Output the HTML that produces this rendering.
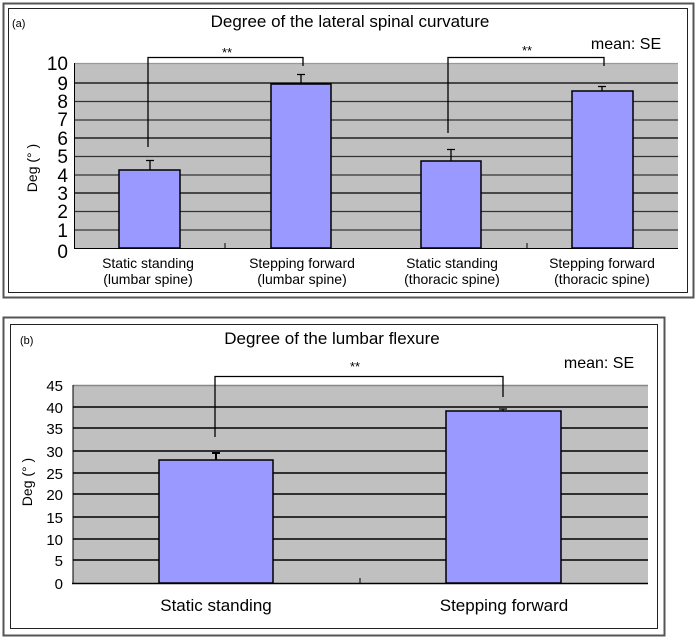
<!DOCTYPE html>
<html><head><style>body{margin:0;background:#fff}svg{display:block}</style></head>
<body>
<svg width="700" height="641" xmlns="http://www.w3.org/2000/svg" font-family="Liberation Sans, sans-serif">
<!-- Panel a -->
<rect x="3.5" y="3.5" width="690" height="294" fill="#fff" stroke="#555" stroke-width="2"/>
<rect x="8.5" y="8.5" width="679" height="284" fill="#fff" stroke="#222" stroke-width="1"/>
<text x="12" y="27" font-size="11">(a)</text>
<text x="350" y="27" font-size="17" text-anchor="middle">Degree of the lateral spinal curvature</text>
<text x="626" y="49" font-size="16" text-anchor="middle">mean: SE</text>
<rect x="75" y="63" width="603" height="185" fill="#c0c0c0"/>
<g stroke="#333" stroke-width="1.2">
<line x1="75" y1="63.5" x2="678" y2="63.5" stroke="#999"/>
<line x1="75" y1="83" x2="678" y2="83" stroke="#000"/>
<line x1="75" y1="101.5" x2="678" y2="101.5"/>
<line x1="75" y1="120" x2="678" y2="120"/>
<line x1="75" y1="138" x2="678" y2="138" stroke="#000"/>
<line x1="75" y1="156.5" x2="678" y2="156.5"/>
<line x1="75" y1="175" x2="678" y2="175"/>
<line x1="75" y1="193" x2="678" y2="193" stroke="#000"/>
<line x1="75" y1="211.5" x2="678" y2="211.5"/>
<line x1="75" y1="230" x2="678" y2="230"/>
</g>
<line x1="74.5" y1="63" x2="74.5" y2="248" stroke="#000"/>
<line x1="74" y1="248.5" x2="678" y2="248.5" stroke="#000"/>
<line x1="225" y1="243" x2="225" y2="248" stroke="#000"/>
<line x1="527" y1="243" x2="527" y2="248" stroke="#000"/>
<g font-size="19" text-anchor="end">
<text x="68" y="70">10</text><text x="68" y="90">9</text><text x="68" y="108">8</text><text x="68" y="126">7</text><text x="68" y="145">6</text><text x="68" y="163">5</text><text x="68" y="182">4</text><text x="68" y="200">3</text><text x="68" y="218">2</text><text x="68" y="237">1</text><text x="68" y="258">0</text>
</g>
<text transform="translate(37,168) rotate(-90)" font-size="14" text-anchor="middle">Deg (°  )</text>
<g fill="#9999ff" stroke="#000" stroke-width="1.5">
<rect x="119" y="170" width="61" height="78"/>
<rect x="271" y="84" width="60" height="164"/>
<rect x="421" y="161" width="60" height="87"/>
<rect x="572" y="91" width="61" height="157"/>
</g>
<g stroke="#000" stroke-width="1.3" fill="none">
<path d="M150 170V160M146 160.5H154"/>
<path d="M301 84V74M297 74.5H305"/>
<path d="M451 161V149M447 149.5H455"/>
<path d="M602 91V86M598 86.5H606"/>
<path d="M148 147V57.5H303V66"/>
<path d="M448 133V57.5H604V66"/>
</g>
<text x="227" y="57" font-size="13" text-anchor="middle">**</text>
<text x="527" y="55" font-size="13" text-anchor="middle">**</text>
<g font-size="14" text-anchor="middle">
<text x="148" y="268">Static standing</text><text x="148" y="284">(lumbar spine)</text>
<text x="302" y="268">Stepping forward</text><text x="302" y="284">(lumbar spine)</text>
<text x="452" y="268">Static standing</text><text x="452" y="284">(thoracic spine)</text>
<text x="602" y="268">Stepping forward</text><text x="602" y="284">(thoracic spine)</text>
</g>
<!-- Panel b -->
<rect x="3.5" y="317.5" width="661" height="318" fill="#fff" stroke="#555" stroke-width="2"/>
<rect x="10.5" y="324.5" width="647" height="304" fill="#fff" stroke="#222" stroke-width="1"/>
<text x="20" y="344" font-size="11">(b)</text>
<text x="332" y="344" font-size="17" text-anchor="middle">Degree of the lumbar flexure</text>
<text x="599" y="368" font-size="16" text-anchor="middle">mean: SE</text>
<rect x="73" y="385" width="575" height="198" fill="#c0c0c0"/>
<line x1="73" y1="385.5" x2="648" y2="385.5" stroke="#888" stroke-width="1.5"/>
<g stroke="#000" stroke-width="1.5">
<line x1="73" y1="407" x2="648" y2="407"/>
<line x1="73" y1="428" x2="648" y2="428"/>
<line x1="73" y1="451" x2="648" y2="451"/>
<line x1="73" y1="473" x2="648" y2="473"/>
<line x1="73" y1="494" x2="648" y2="494"/>
<line x1="73" y1="517" x2="648" y2="517"/>
<line x1="73" y1="539" x2="648" y2="539"/>
<line x1="73" y1="560" x2="648" y2="560"/>
</g>
<line x1="73" y1="385" x2="73" y2="583" stroke="#000"/>
<line x1="72" y1="583.5" x2="648" y2="583.5" stroke="#000" stroke-width="1.5"/>
<line x1="360" y1="578" x2="360" y2="583" stroke="#000"/>
<g font-size="15" text-anchor="end">
<text x="63" y="391">45</text><text x="63" y="413">40</text><text x="63" y="434">35</text><text x="63" y="457">30</text><text x="63" y="479">25</text><text x="63" y="500">20</text><text x="63" y="523">15</text><text x="63" y="545">10</text><text x="63" y="566">5</text><text x="63" y="589">0</text>
</g>
<text transform="translate(32,482) rotate(-90)" font-size="14" text-anchor="middle">Deg (°  )</text>
<g fill="#9999ff" stroke="#000" stroke-width="1.5">
<rect x="159" y="460" width="114" height="123"/>
<rect x="446" y="411" width="115" height="172"/>
</g>
<g stroke="#000" stroke-width="1.3" fill="none">
<path d="M216 460V453M212 453H220" stroke-width="2"/>
<path d="M503 411V409M499 409H507"/>
<path d="M215 437V376.5H503V397"/>
</g>
<text x="355" y="371" font-size="13" text-anchor="middle">**</text>
<g font-size="17" text-anchor="middle">
<text x="216" y="611">Static standing</text>
<text x="504" y="611">Stepping forward</text>
</g>
</svg>
</body></html>
